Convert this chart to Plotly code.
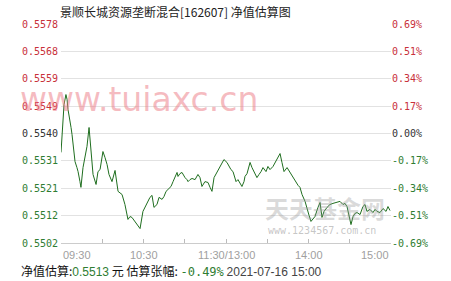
import plotly.graph_objects as go

# ---- data ----
minutes = [0, 0.7, 1.5, 2.2, 3.6, 4.4, 5.1, 6.5, 7.3, 8.0, 8.7, 10.2, 11.6, 12.4, 13.8, 14.5,
           16.0, 17.5, 18.9, 20.4, 21.8, 23.3, 25.5, 26.9, 28.4, 30.5, 32.0, 33.5, 34.9, 37.1,
           39.3, 41.5, 44.4, 46.5, 48.7, 50.2, 51.6, 53.8, 55.3, 57.5, 59.6, 62.5, 64.7, 66.2,
           67.6, 69.8, 71.3, 73.5, 74.9, 76.4, 77.8, 80.0, 81.5, 82.9, 84.4, 85.1, 86.5, 88.0,
           88.7, 90.2, 91.6, 92.4, 93.8, 95.3, 97.5, 99.6, 101.1, 102.5, 104.7, 106.9, 108.4,
           109.8, 111.3, 113.5, 115.6, 117.1, 118.5, 120.7, 122.2, 123.6, 125.1, 127.3, 128.7,
           130.2, 131.6, 133.1, 133.8, 135.3, 136.0, 137.5, 138.9, 140.4, 142.5, 144.0, 145.5,
           146.9, 149.1, 150.5, 152.0, 154.2, 155.6, 157.1, 159.3, 160.7, 162.2, 164.4, 166.5,
           168.7, 170.9, 172.4, 173.8, 175.3, 177.5, 178.9, 180.4, 181.8, 183.3, 184.7, 186.9,
           188.4, 189.8, 191.3, 193.5, 195.6, 197.8, 200.7, 202.9, 205.1, 206.5, 208.0, 209.5,
           210.9, 212.4, 213.8, 215.3, 217.5, 219.6, 221.1, 222.5, 224.7, 226.9, 228.4, 229.8,
           232.0, 234.2, 236.4, 237.8, 239.3]
nav = [0.55334, 0.55379, 0.55442, 0.55501, 0.55536, 0.55519, 0.55484, 0.55431, 0.55421, 0.55397,
       0.55362, 0.55302, 0.55281, 0.55267, 0.55232, 0.55212, 0.55281, 0.55316, 0.55355, 0.55421,
       0.55337, 0.55257, 0.55222, 0.55267, 0.55274, 0.55337, 0.55316, 0.55292, 0.55257, 0.55232,
       0.55271, 0.55198, 0.55187, 0.55152, 0.55100, 0.55110, 0.55107, 0.55093, 0.55086, 0.55068,
       0.55128, 0.55159, 0.55177, 0.55184, 0.55142, 0.55152, 0.55177, 0.55170, 0.55180, 0.55198,
       0.55205, 0.55215, 0.55232, 0.55250, 0.55264, 0.55250, 0.55260, 0.55264, 0.55257, 0.55246,
       0.55239, 0.55232, 0.55239, 0.55243, 0.55239, 0.55257, 0.55246, 0.55215, 0.55232, 0.55229,
       0.55212, 0.55198, 0.55246, 0.55264, 0.55281, 0.55295, 0.55309, 0.55299, 0.55285, 0.55274,
       0.55267, 0.55232, 0.55239, 0.55226, 0.55215, 0.55232, 0.55250, 0.55260, 0.55274, 0.55299,
       0.55281, 0.55267, 0.55246, 0.55257, 0.55267, 0.55281, 0.55267, 0.55285, 0.55274, 0.55285,
       0.55299, 0.55309, 0.55330, 0.55299, 0.55267, 0.55281, 0.55264, 0.55246, 0.55229, 0.55219,
       0.55212, 0.55187, 0.55163, 0.55135, 0.55114, 0.55093, 0.55103, 0.55110, 0.55142, 0.55159,
       0.55107, 0.55128, 0.55142, 0.55152, 0.55156, 0.55159, 0.55163, 0.55152, 0.55156, 0.55145,
       0.55110, 0.55082, 0.55110, 0.55121, 0.55124, 0.55117, 0.55145, 0.55152, 0.55128, 0.55135,
       0.55124, 0.55135, 0.55128, 0.55124, 0.55138, 0.55128, 0.55145, 0.55131]

prev_nav = 0.5540
y_range = [0.550177, 0.557823]
y_tickvals = [0.557823, 0.556867, 0.555912, 0.554956, 0.5540, 0.553044, 0.552089, 0.551133, 0.550177]
left_labels = ["0.5578", "0.5568", "0.5559", "0.5549", "0.5540", "0.5531", "0.5521", "0.5512", "0.5502"]
right_labels = ["0.69%", "0.51%", "0.34%", "0.17%", "0.00%", "-0.17%", "-0.34%", "-0.51%", "-0.69%"]
x_tickvals = [0, 30, 60, 90, 120, 150, 180, 210, 240]
x_labels = ["09:30", "10:30", "11:30/13:00", "14:00", "15:00"]
x_label_pos = [0, 60, 120, 180, 240]

title = "景顺长城资源垄断混合[162607] 净值估算图"
est_nav = "0.5513"
est_pct = "-0.49%"
stamp = "2021-07-16 15:00"

RED = "#c8303a"
GREEN = "#2f7d32"
GRAY = "#333333"

L, R, T, B = 61, 60, 24, 38
W, H = 451, 281
PW, PH = W - L - R, H - T - B


def px(x):
    return (x - L) / PW


def py(y):
    return 1 - (y - T) / PH


def colored(labels):
    out = []
    for i, t in enumerate(labels):
        c = RED if i < 4 else (GRAY if i == 4 else GREEN)
        out.append(f"<span style='color:{c}'>{t}</span>")
    return out


fig = go.Figure()
fig.add_trace(go.Scatter(x=minutes, y=nav, mode="lines",
                         line=dict(color="#1f6e1f", width=1), hoverinfo="skip"))
fig.add_trace(go.Scatter(x=minutes, y=nav, mode="lines", yaxis="y2",
                         line=dict(color="rgba(0,0,0,0)", width=0), hoverinfo="skip"))

# zero (previous NAV) reference line
fig.add_shape(type="line", xref="x", yref="y", x0=0, x1=240, y0=prev_nav, y1=prev_nav,
              line=dict(color="#9a9a9a", width=1), layer="below")

mono = "DejaVu Sans Mono"
fig.update_layout(
    width=W, height=H,
    margin=dict(l=L, r=R, t=T, b=B),
    paper_bgcolor="white", plot_bgcolor="white",
    showlegend=False,
    xaxis=dict(range=[0, 240], tickvals=x_tickvals, ticktext=[""] * len(x_tickvals),
               ticks="inside", ticklen=4, tickcolor="#bbbbbb",
               showgrid=False, zeroline=False, showline=True, linecolor="#cccccc",
               linewidth=1, fixedrange=True),
    yaxis=dict(range=y_range, tickvals=y_tickvals, ticktext=colored(left_labels),
               tickfont=dict(family=mono, size=10, color=GREEN),
               showgrid=True, gridcolor="#e2e2e2", gridwidth=1, zeroline=False,
               showline=False, ticks="", ticklabelstandoff=2, fixedrange=True),
    yaxis2=dict(range=y_range, tickvals=y_tickvals, ticktext=colored(right_labels),
                tickfont=dict(family=mono, size=10, color=GREEN),
                overlaying="y", side="right", showgrid=False, zeroline=False,
                showline=False, ticks="", fixedrange=True),
)

annotations = []
# watermarks
annotations.append(dict(text="www.tuiaxc.cn", x=px(139), y=py(99), xref="paper", yref="paper",
                        xanchor="center", yanchor="middle", showarrow=False,
                        font=dict(family="DejaVu Sans", size=33,
                                  color="rgba(236,120,130,0.5)")))
annotations.append(dict(text="<b>天天基金网</b>", x=px(325), y=py(207), xref="paper", yref="paper",
                        xanchor="center", yanchor="middle", showarrow=False,
                        font=dict(family="Noto Sans CJK SC", size=24,
                                  color="rgba(150,150,150,0.35)")))
annotations.append(dict(text="www.1234567.com.cn", x=px(322), y=py(230), xref="paper",
                        yref="paper", xanchor="center", yanchor="middle", showarrow=False,
                        font=dict(family=mono, size=10, color="rgba(150,150,150,0.55)")))

# title
annotations.append(dict(text=title, x=px(175), y=py(11), xref="paper", yref="paper",
                        xanchor="center", yanchor="middle", showarrow=False,
                        font=dict(family="Noto Sans CJK SC", size=12, color="#222222")))

# x labels
for lab, pos in zip(x_labels, x_label_pos):
    anchor = "left" if pos == 0 else ("right" if pos == 240 else "center")
    annotations.append(dict(text=lab, x=pos, xref="x", y=py(255), yref="paper",
                            xanchor=anchor, yanchor="middle", showarrow=False,
                            font=dict(family="Liberation Sans", size=11, color="#a0a0a0")))

# bottom info line
info = (f"<span style='color:#111'>净值估算:</span>"
        f"<span style='color:{GREEN};font-family:Liberation Sans'>{est_nav}</span>"
        f"<span style='color:#111'> 元 估算张幅:</span> "
        f"<span style='color:{GREEN};font-family:{mono}'>{est_pct}</span> "
        f"<span style='color:#444;font-family:Liberation Sans'>{stamp}</span>")
annotations.append(dict(text=info, x=px(19), y=py(270), xref="paper",
                        yref="paper", xanchor="left", yanchor="middle", showarrow=False,
                        font=dict(family="Noto Sans CJK SC", size=12, color="#111")))

fig.update_layout(annotations=annotations)
fig.write_html("out.html")
